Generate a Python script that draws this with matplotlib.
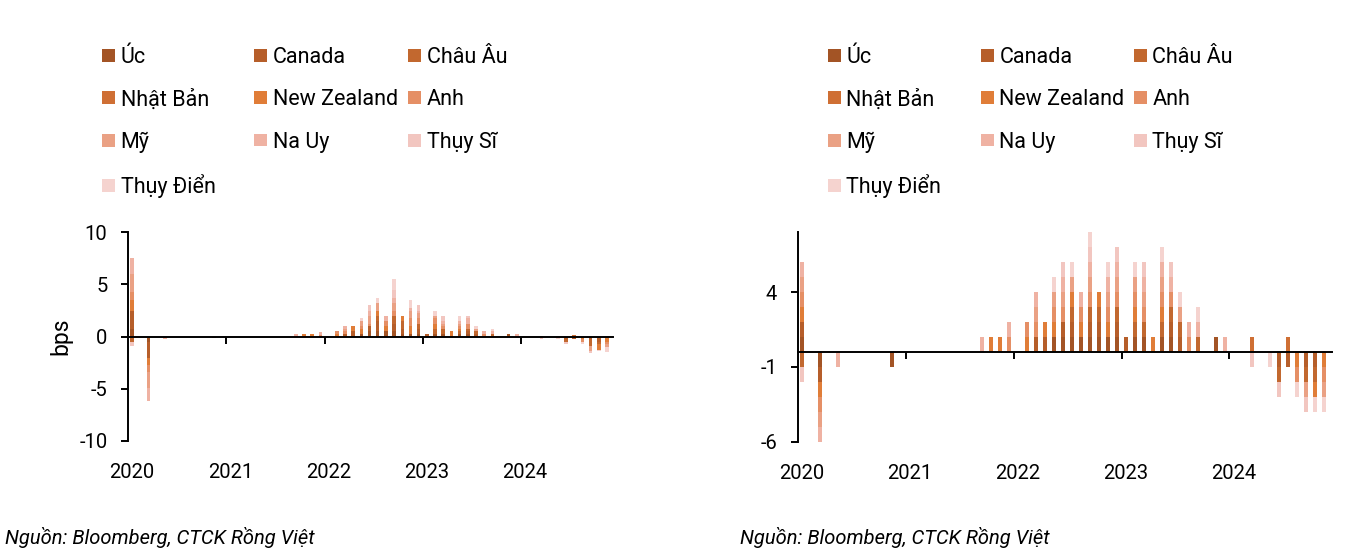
import numpy as np
import matplotlib
matplotlib.use("Agg")
import matplotlib.pyplot as plt

plt.rcParams['font.family'] = ['Roboto', 'DejaVu Sans']
plt.rcParams['axes.unicode_minus'] = False

N_MONTHS = 59  # 01/2020 .. 11/2024, index 0 = 01/2020
years = [2020, 2021, 2022, 2023, 2024]

banks = ["Úc", "Canada", "Châu Âu", "Nhật Bản", "New Zealand",
         "Anh", "Mỹ", "Na Uy", "Thụy Sĩ", "Thụy Điển"]
colors = ["#A35425", "#B65E2A", "#C2682F", "#CF6F34", "#E07D38",
          "#E58F65", "#EAA184", "#EFB2A3", "#F2C6C0", "#F5D3CF"]

# thay doi lai suat theo thang {chi so thang: gia tri truc trai}
uc = {0: .75, 2: -.5, 10: -.15, 28: .25, 29: .5, 30: .5, 31: .5, 32: .5, 33: .25,
      34: .25, 35: .25, 37: .25, 38: .25, 40: .25, 41: .25, 46: .25}
canada = {0: 1.75, 2: -1.5, 26: .25, 27: .5, 29: .5, 30: 1.0, 32: .75, 33: .5, 35: .5,
          36: .25, 41: .25, 42: .25, 53: -.25, 54: -.25, 56: -.25, 57: -.5}
chau_au = {0: -.5, 30: .5, 32: .75, 33: .75, 35: .5, 37: .5, 38: .5, 40: .25, 41: .25,
           42: .25, 44: .25, 53: -.25, 56: -.6, 57: -.25}
nhat_ban = {50: .1, 54: .15}
new_zealand = {0: 1.0, 2: -.75, 21: .25, 22: .25, 25: .25, 27: .5, 28: .5, 30: .5, 31: .5,
               33: .5, 34: .75, 37: .5, 39: .5, 40: .25, 55: -.25, 57: -.5, 58: -.5}
anh = {0: .75, 2: -.65, 23: .15, 25: .25, 26: .25, 28: .25, 29: .25, 31: .5, 32: .5,
       34: .75, 35: .5, 37: .5, 38: .25, 40: .25, 41: .5, 43: .25, 55: -.25, 58: -.25}
my = {0: 1.75, 2: -1.5, 26: .25, 28: .5, 29: .75, 30: .75, 32: .75, 34: .75, 35: .5,
      37: .25, 38: .25, 40: .25, 42: .25, 56: -.5, 58: -.25}
na_uy = {0: 1.5, 2: -1.25, 4: -.25, 20: .25, 23: .25, 26: .25, 29: .5, 31: .5, 32: .5,
         34: .25, 35: .25, 38: .25, 40: .25, 41: .5, 43: .25, 44: .25, 47: .25}
thuy_si = {0: -.35, 29: .5, 32: .75, 35: .5, 38: .5, 41: .25, 50: -.25, 53: -.25, 56: -.25}
thuy_dien = {28: .25, 30: .5, 32: 1.0, 34: .75, 37: .5, 40: .5, 42: .25, 44: .25,
             52: -.25, 55: -.25, 57: -.15, 58: -.5}

moves = [uc, canada, chau_au, nhat_ban, new_zealand, anh, my, na_uy, thuy_si, thuy_dien]

W, H = 1345, 556
LW = 1.4
FS_TICK = 14.5
FS_LEG = 15.5

x = np.arange(N_MONTHS)
vals = np.zeros((len(banks), N_MONTHS))
for k, d in enumerate(moves):
    for m, v in d.items():
        vals[k, m] = v
# panel phai: so NHTW tang (+1) / giam (-1)
counts = np.sign(vals)


def stacked(ax, data, width):
    pos = np.zeros(N_MONTHS)
    neg = np.zeros(N_MONTHS)
    conts = []
    for k in range(len(banks)):
        v = data[k]
        base = np.where(v >= 0, pos, neg)
        c = ax.bar(x, v, width, bottom=base, color=colors[k], label=banks[k], linewidth=0)
        pos += np.clip(v, 0, None)
        neg += np.clip(v, None, 0)
        conts.append(c)
    return conts


def style(ax, ylim, yticks, xmax):
    ax.set_xlim(-0.5, xmax)
    ax.set_ylim(*ylim)
    ax.set_yticks(yticks)
    for s in ['top', 'right']:
        ax.spines[s].set_visible(False)
    ax.spines['bottom'].set_position(('data', 0))
    ax.spines['bottom'].set_linewidth(LW)
    ax.spines['left'].set_linewidth(LW)
    ax.set_xticks([12 * k - 0.5 for k in range(1, len(years))])
    ax.tick_params(axis='x', labelbottom=False, length=4.8, width=LW, direction='out')
    ax.tick_params(axis='y', length=4.8, width=LW, pad=10, labelsize=FS_TICK)
    sec = ax.secondary_xaxis('bottom')
    sec.spines['bottom'].set_visible(False)
    sec.set_xticks([12 * k for k in range(len(years))])
    sec.set_xticklabels([str(y) for y in years])
    sec.tick_params(axis='x', length=0, pad=16, labelsize=FS_TICK)


fig = plt.figure(figsize=(W / 100, H / 100), dpi=100)
ax1 = fig.add_axes([128 / W, 1 - 441 / H, (612.7 - 128) / W, (441 - 232.3) / H])
ax2 = fig.add_axes([797.7 / W, 1 - 441.7 / H, (1332 - 797.7) / W, (441.7 - 232.3) / H])

h1 = stacked(ax1, vals, 0.42)
h2 = stacked(ax2, counts, 0.47)
style(ax1, (-10, 10), [-10, -5, 0, 5, 10], 58.7)
style(ax2, (-6, 8), [-6, -1, 4], 58.9)
ax1.set_ylabel('bps', fontsize=FS_LEG + 1, labelpad=5)

# legend: 3 cot, dien theo hang
cols = [[0, 3, 6, 9], [1, 4, 7], [2, 5, 8]]
for handles, xs in [(h1, [102.3, 254.3, 408.3]), (h2, [828, 981, 1134])]:
    for col, x0 in zip(cols, xs):
        fig.legend([handles[i] for i in col], [banks[i] for i in col],
                   loc='upper left', bbox_to_anchor=(x0 / W, 1 - 47 / H),
                   frameon=False, borderpad=0, borderaxespad=0,
                   handlelength=0.6, handleheight=0.53, handletextpad=0.25,
                   labelspacing=0.99, fontsize=FS_LEG)

src = "Nguồn: Bloomberg, CTCK Rồng Việt"
fig.text(5 / W, 1 - 538 / H, src, style='italic', fontsize=14.5, va='center')
fig.text(740 / W, 1 - 538 / H, src, style='italic', fontsize=14.5, va='center')

fig.savefig('out.png', dpi=100)
